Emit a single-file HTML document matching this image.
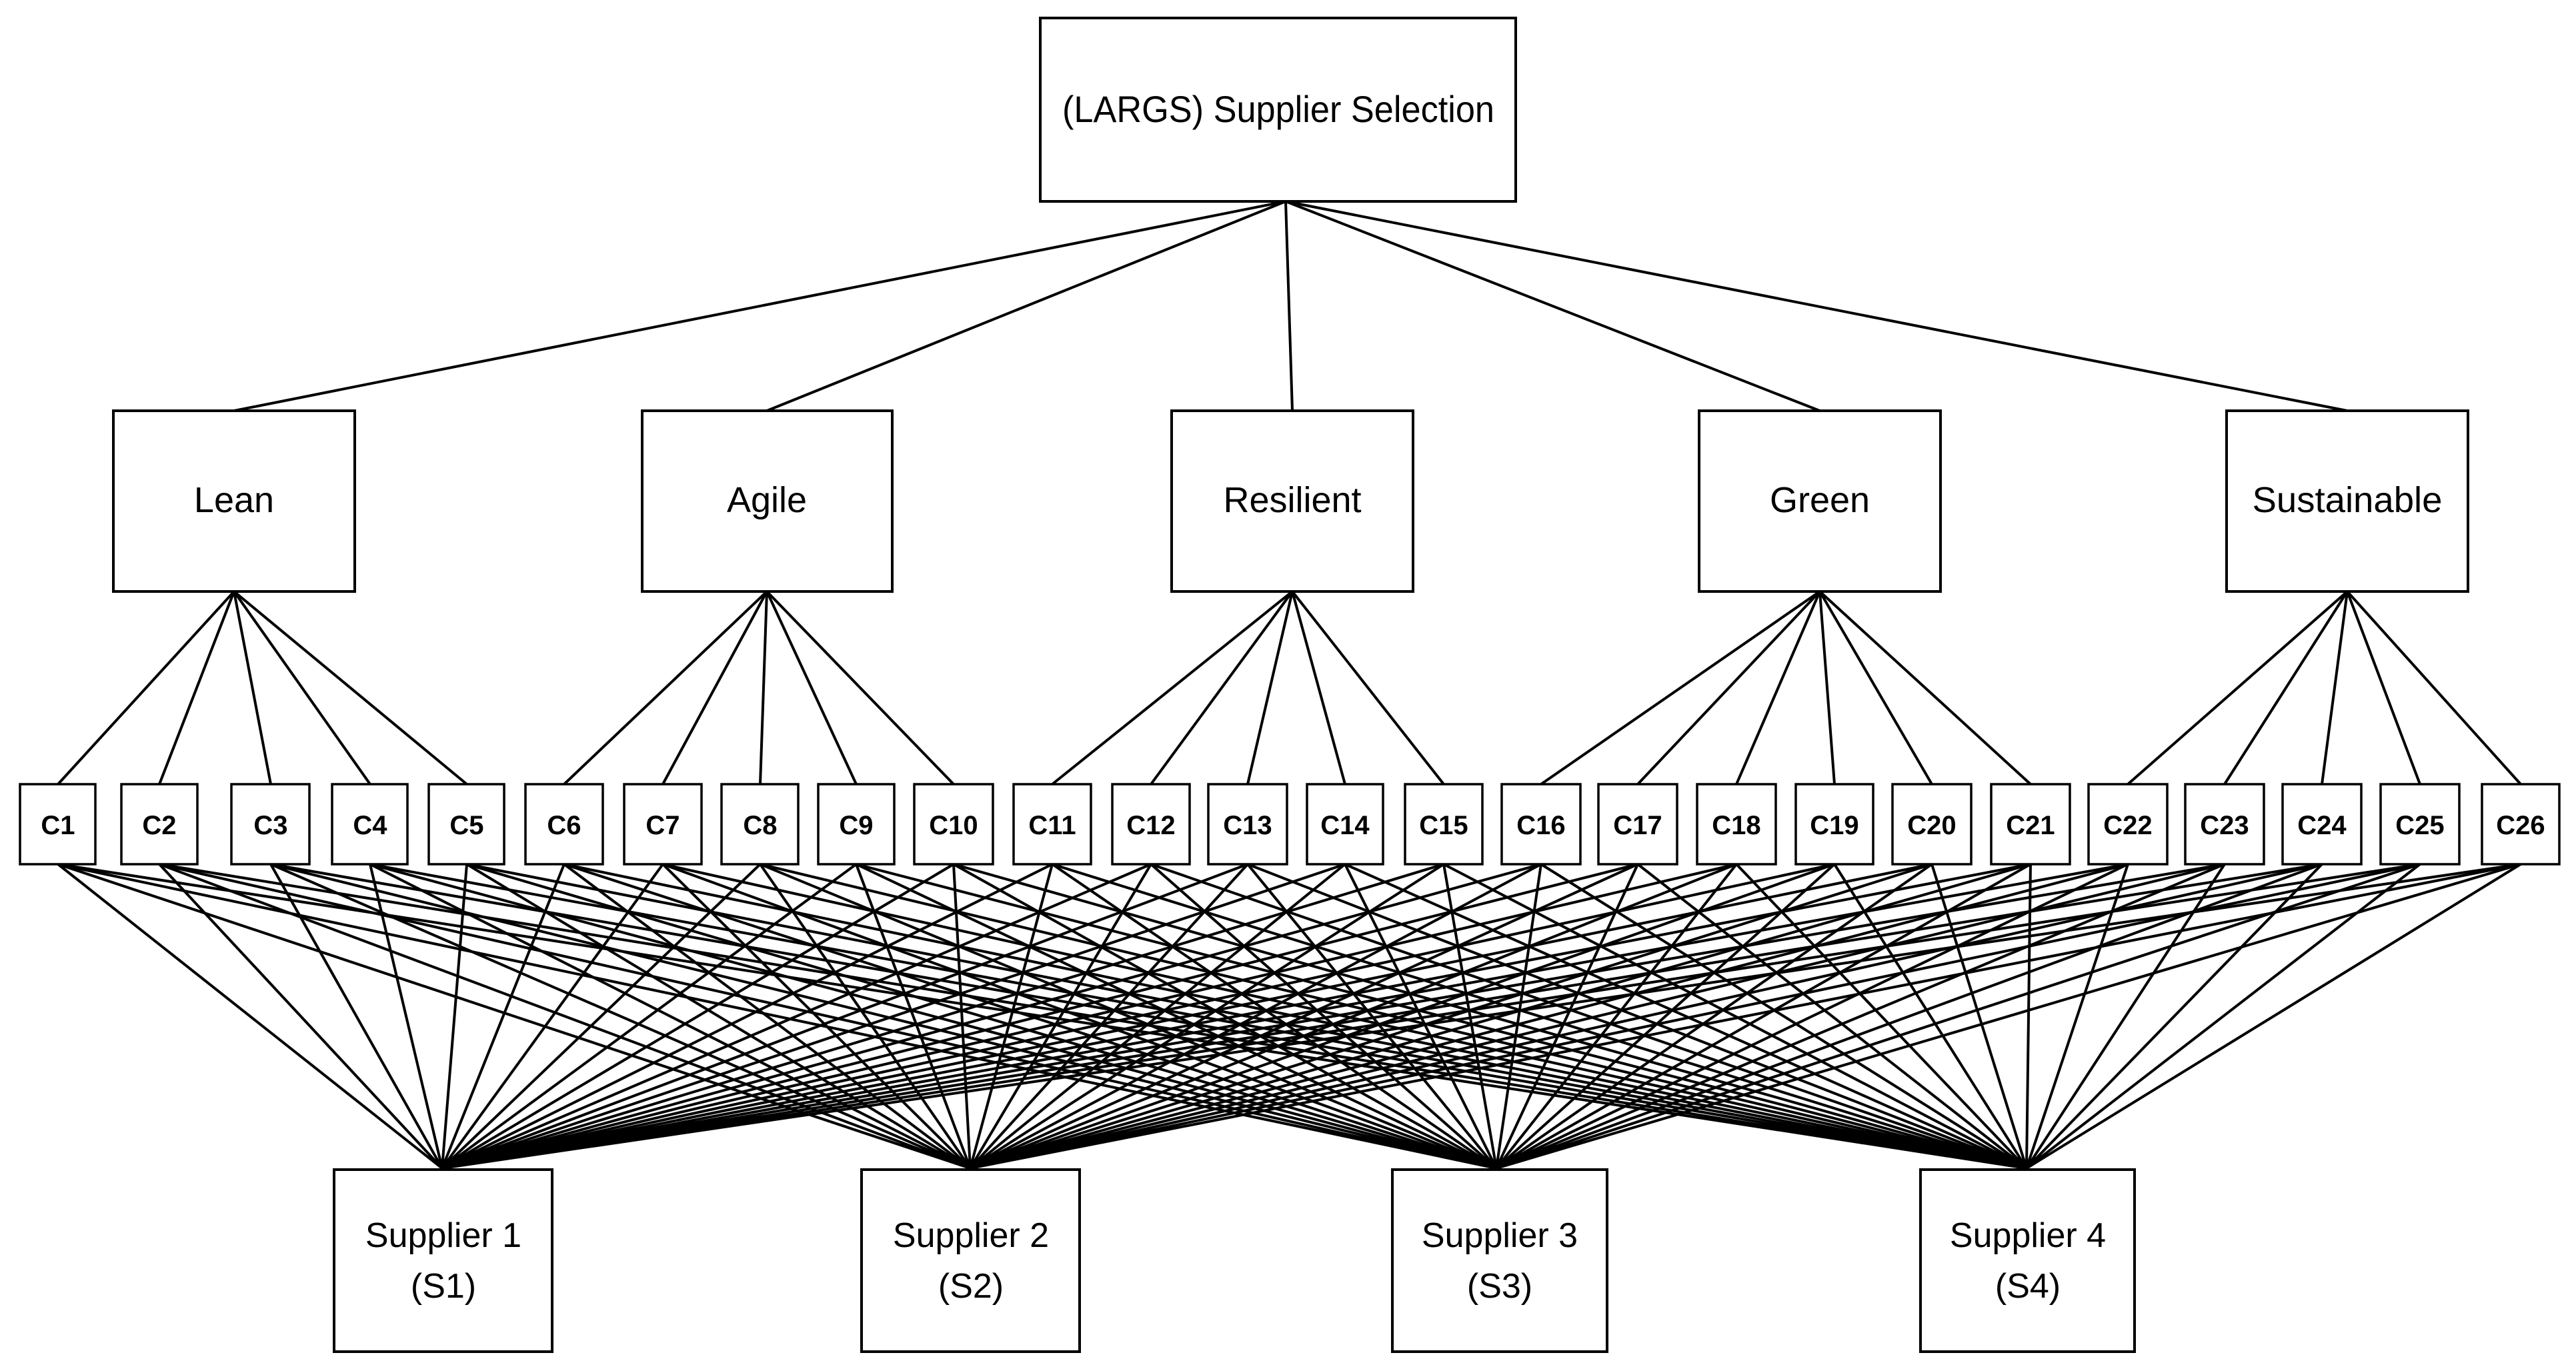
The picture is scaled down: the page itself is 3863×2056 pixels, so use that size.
<!DOCTYPE html>
<html><head><meta charset="utf-8"><style>html,body{margin:0;padding:0;background:#fff}svg{display:block}</style></head>
<body>
<svg width="3863" height="2056" viewBox="0 0 3863 2056" xmlns="http://www.w3.org/2000/svg" font-family="'Liberation Sans', sans-serif">
<g stroke="#000" stroke-width="4" fill="none">
<path d="M1928 302L351 616M1928 302L1150 616M1928 302L1938 616M1928 302L2729 616M1928 302L3520 616"/>
<path d="M351 887L87 1176M351 887L239 1176M351 887L406 1176M351 887L555 1176M351 887L700 1176
M1150 887L846 1176M1150 887L994 1176M1150 887L1140 1176M1150 887L1284 1176M1150 887L1430 1176
M1938 887L1578 1176M1938 887L1726 1176M1938 887L1871 1176M1938 887L2017 1176M1938 887L2165 1176
M2729 887L2311 1176M2729 887L2456 1176M2729 887L2604 1176M2729 887L2751 1176M2729 887L2897 1176M2729 887L3045 1176
M3520 887L3191 1176M3520 887L3336 1176M3520 887L3482 1176M3520 887L3629 1176M3520 887L3780 1176"/>
</g>
<g stroke="#000" stroke-width="4" fill="none">
<path d="M663 1752L87 1296M663 1752L239 1296M663 1752L406 1296M663 1752L555 1296M663 1752L700 1296M663 1752L846 1296M663 1752L994 1296M663 1752L1140 1296M663 1752L1284 1296M663 1752L1430 1296M663 1752L1578 1296M663 1752L1726 1296M663 1752L1871 1296M663 1752L2017 1296M663 1752L2165 1296M663 1752L2311 1296M663 1752L2456 1296M663 1752L2604 1296M663 1752L2751 1296M663 1752L2897 1296M663 1752L3045 1296M663 1752L3191 1296M663 1752L3336 1296M663 1752L3482 1296M663 1752L3629 1296M663 1752L3780 1296"/>
<path d="M1455 1752L87 1296M1455 1752L239 1296M1455 1752L406 1296M1455 1752L555 1296M1455 1752L700 1296M1455 1752L846 1296M1455 1752L994 1296M1455 1752L1140 1296M1455 1752L1284 1296M1455 1752L1430 1296M1455 1752L1578 1296M1455 1752L1726 1296M1455 1752L1871 1296M1455 1752L2017 1296M1455 1752L2165 1296M1455 1752L2311 1296M1455 1752L2456 1296M1455 1752L2604 1296M1455 1752L2751 1296M1455 1752L2897 1296M1455 1752L3045 1296M1455 1752L3191 1296M1455 1752L3336 1296M1455 1752L3482 1296M1455 1752L3629 1296M1455 1752L3780 1296"/>
<path d="M2244 1752L87 1296M2244 1752L239 1296M2244 1752L406 1296M2244 1752L555 1296M2244 1752L700 1296M2244 1752L846 1296M2244 1752L994 1296M2244 1752L1140 1296M2244 1752L1284 1296M2244 1752L1430 1296M2244 1752L1578 1296M2244 1752L1726 1296M2244 1752L1871 1296M2244 1752L2017 1296M2244 1752L2165 1296M2244 1752L2311 1296M2244 1752L2456 1296M2244 1752L2604 1296M2244 1752L2751 1296M2244 1752L2897 1296M2244 1752L3045 1296M2244 1752L3191 1296M2244 1752L3336 1296M2244 1752L3482 1296M2244 1752L3629 1296M2244 1752L3780 1296"/>
<path d="M3039 1752L87 1296M3039 1752L239 1296M3039 1752L406 1296M3039 1752L555 1296M3039 1752L700 1296M3039 1752L846 1296M3039 1752L994 1296M3039 1752L1140 1296M3039 1752L1284 1296M3039 1752L1430 1296M3039 1752L1578 1296M3039 1752L1726 1296M3039 1752L1871 1296M3039 1752L2017 1296M3039 1752L2165 1296M3039 1752L2311 1296M3039 1752L2456 1296M3039 1752L2604 1296M3039 1752L2751 1296M3039 1752L2897 1296M3039 1752L3045 1296M3039 1752L3191 1296M3039 1752L3336 1296M3039 1752L3482 1296M3039 1752L3629 1296M3039 1752L3780 1296"/>
</g>
<g stroke="#000" stroke-width="4" fill="#fff">
<rect x="1560" y="27" width="713" height="275"/>
<rect x="170" y="616" width="362" height="271"/>
<rect x="963" y="616" width="375" height="271"/>
<rect x="1757" y="616" width="362" height="271"/>
<rect x="2548" y="616" width="362" height="271"/>
<rect x="3339" y="616" width="362" height="271"/>
<rect x="501" y="1754" width="327" height="273"/>
<rect x="1292" y="1754" width="327" height="273"/>
<rect x="2088" y="1754" width="322" height="273"/>
<rect x="2880" y="1754" width="321" height="273"/>
</g>
<g stroke="#000" stroke-width="3.5" fill="#fff">
<rect x="30" y="1176" width="113" height="120"/>
<rect x="182" y="1176" width="114" height="120"/>
<rect x="347" y="1176" width="117" height="120"/>
<rect x="498" y="1176" width="113" height="120"/>
<rect x="643" y="1176" width="113" height="120"/>
<rect x="788" y="1176" width="116" height="120"/>
<rect x="936" y="1176" width="116" height="120"/>
<rect x="1082" y="1176" width="115" height="120"/>
<rect x="1227" y="1176" width="114" height="120"/>
<rect x="1371" y="1176" width="118" height="120"/>
<rect x="1520" y="1176" width="116" height="120"/>
<rect x="1668" y="1176" width="116" height="120"/>
<rect x="1812" y="1176" width="118" height="120"/>
<rect x="1960" y="1176" width="114" height="120"/>
<rect x="2107" y="1176" width="116" height="120"/>
<rect x="2252" y="1176" width="118" height="120"/>
<rect x="2397" y="1176" width="118" height="120"/>
<rect x="2545" y="1176" width="118" height="120"/>
<rect x="2693" y="1176" width="116" height="120"/>
<rect x="2838" y="1176" width="118" height="120"/>
<rect x="2986" y="1176" width="118" height="120"/>
<rect x="3132" y="1176" width="118" height="120"/>
<rect x="3277" y="1176" width="118" height="120"/>
<rect x="3423" y="1176" width="118" height="120"/>
<rect x="3570" y="1176" width="118" height="120"/>
<rect x="3722" y="1176" width="116" height="120"/>
</g>
<g fill="#000" text-anchor="middle">
<text x="1917" y="183" font-size="56" textLength="648" lengthAdjust="spacingAndGlyphs">(LARGS) Supplier Selection</text>
<text x="351" y="768" font-size="54">Lean</text>
<text x="1150" y="768" font-size="54">Agile</text>
<text x="1938" y="768" font-size="54">Resilient</text>
<text x="2729" y="768" font-size="54">Green</text>
<text x="3520" y="768" font-size="54" textLength="285" lengthAdjust="spacingAndGlyphs">Sustainable</text>
<g font-size="52">
<text x="665" y="1870">Supplier 1</text><text x="665" y="1946">(S1)</text>
<text x="1456" y="1870">Supplier 2</text><text x="1456" y="1946">(S2)</text>
<text x="2249" y="1870">Supplier 3</text><text x="2249" y="1946">(S3)</text>
<text x="3041" y="1870">Supplier 4</text><text x="3041" y="1946">(S4)</text>
</g>
<g font-size="40" font-weight="bold">
<text x="87" y="1251">C1</text><text x="239" y="1251">C2</text><text x="406" y="1251">C3</text><text x="555" y="1251">C4</text><text x="700" y="1251">C5</text><text x="846" y="1251">C6</text><text x="994" y="1251">C7</text><text x="1140" y="1251">C8</text><text x="1284" y="1251">C9</text><text x="1430" y="1251">C10</text><text x="1578" y="1251">C11</text><text x="1726" y="1251">C12</text><text x="1871" y="1251">C13</text><text x="2017" y="1251">C14</text><text x="2165" y="1251">C15</text><text x="2311" y="1251">C16</text><text x="2456" y="1251">C17</text><text x="2604" y="1251">C18</text><text x="2751" y="1251">C19</text><text x="2897" y="1251">C20</text><text x="3045" y="1251">C21</text><text x="3191" y="1251">C22</text><text x="3336" y="1251">C23</text><text x="3482" y="1251">C24</text><text x="3629" y="1251">C25</text><text x="3780" y="1251">C26</text>
</g>
</g>
</svg>
</body></html>
